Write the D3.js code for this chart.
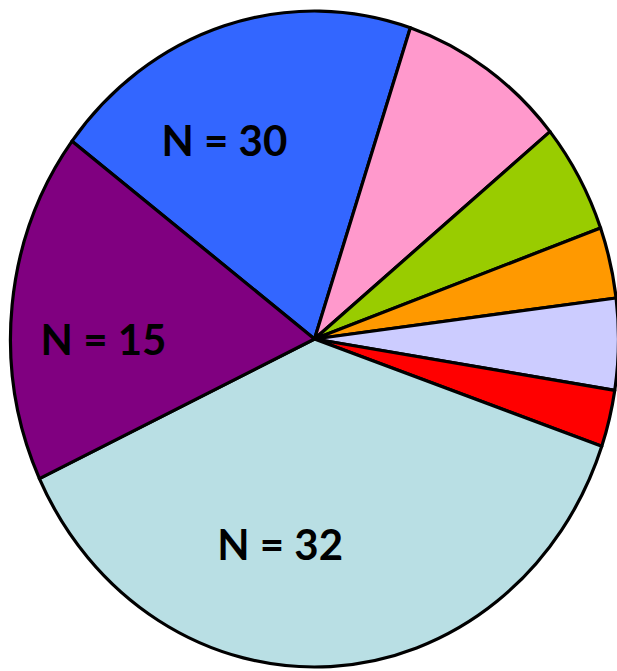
<!DOCTYPE html>
<html>
<head>
<meta charset="utf-8">
<script src="https://cdn.jsdelivr.net/npm/d3@7"></script>
<style>
  html, body { margin: 0; padding: 0; background: #ffffff; }
  svg { display: block; }
</style>
</head>
<body>
<svg id="chart" width="617" height="671"></svg>
<script>
// Share of each group (percent), clockwise from the blue wedge
const groups = ["A", "B", "C", "D", "E", "F", "G", "H"];
const shares = [19.8, 9.0, 5.4, 3.5, 4.5, 2.8, 37.7, 17.3];
const colors = ["#3366FF", "#FF99CC", "#99CC00", "#FF9900", "#CCCCFF", "#FF0000", "#B9DFE4", "#800080"];

// Sample sizes printed on the three largest wedges
const labelGroups = ["A", "G", "H"];
const labelCounts = [30, 32, 15];

// Layout
const width = 617, height = 671;
const cx = 314.5, cy = 339;
const rx = 304, ry = 328;
const startDeg = -52.9;
// label placement: radius fraction and angular nudge (degrees) from wedge middle
const labelRadius = { A: 0.675, G: 0.635, H: 0.694 };
const labelNudge = { A: -8.8, G: 13.3, H: -6.0 };

const svg = d3.select("#chart");
const rad = d => d * Math.PI / 180;

const pie = d3.pie()
  .sort(null)
  .value(d => d.value)
  .startAngle(rad(startDeg))
  .endAngle(rad(startDeg) + 2 * Math.PI);

const data = groups.map((g, i) => ({ group: g, value: shares[i], color: colors[i] }));
const arcs = pie(data);

const arc = d3.arc().innerRadius(0).outerRadius(ry);

const g = svg.append("g")
  .attr("transform", `translate(${cx},${cy}) scale(${rx / ry},1)`);

g.selectAll("path")
  .data(arcs)
  .join("path")
  .attr("d", arc)
  .attr("fill", d => d.data.color)
  .attr("stroke", "#000")
  .attr("stroke-width", 3.2)
  .attr("stroke-linejoin", "round")
  .attr("vector-effect", "non-scaling-stroke");

const labels = labelGroups.map((grp, i) => {
  const a = arcs.find(d => d.data.group === grp);
  const mid = (a.startAngle + a.endAngle) / 2 + rad(labelNudge[grp]);
  const r = labelRadius[grp];
  return {
    text: `N = ${labelCounts[i]}`,
    x: cx + r * rx * Math.sin(mid),
    y: cy - r * ry * Math.cos(mid)
  };
});

svg.selectAll("text.lbl")
  .data(labels)
  .join("text")
  .attr("class", "lbl")
  .attr("x", d => d.x)
  .attr("y", d => d.y)
  .attr("text-anchor", "middle")
  .attr("dominant-baseline", "central")
  .attr("font-family", "Lato, 'Open Sans', sans-serif")
  .attr("font-weight", "bold")
  .attr("font-size", 42)
  .attr("fill", "#000")
  .text(d => d.text);
</script>
</body>
</html>
